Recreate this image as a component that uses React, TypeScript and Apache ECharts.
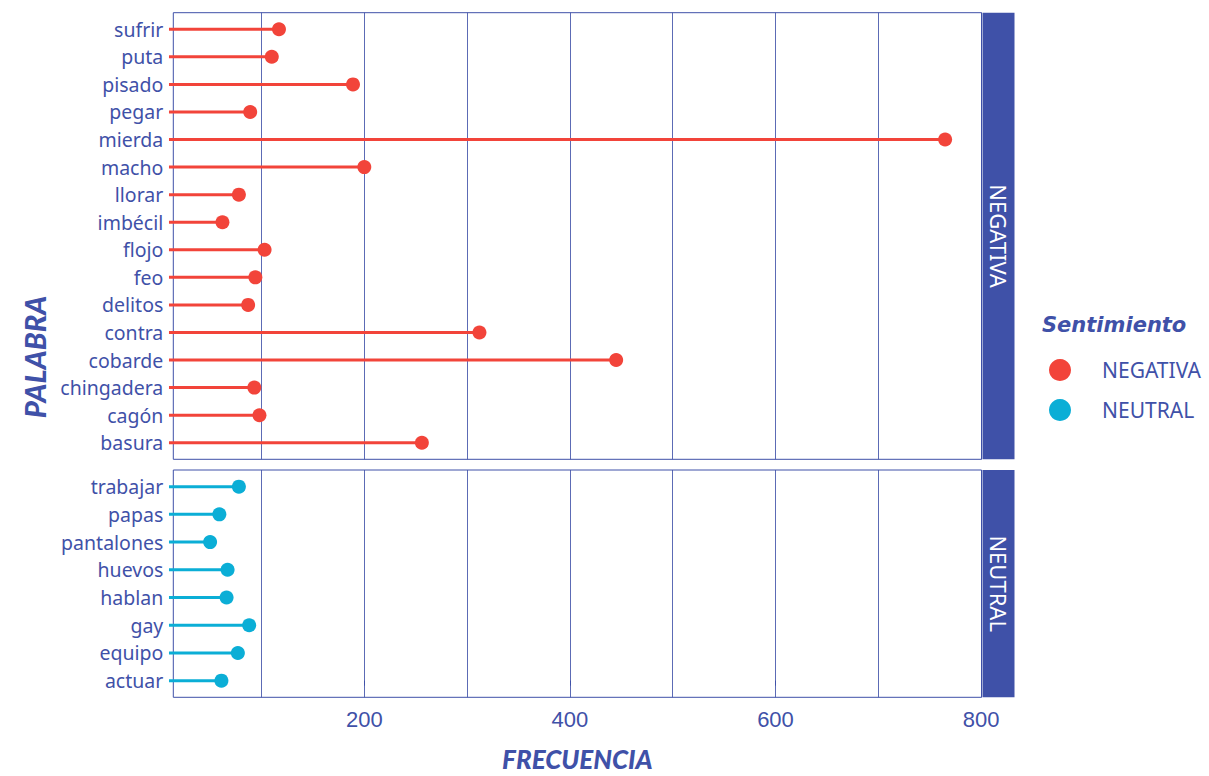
import React, { useEffect, useRef } from "react";
import * as echarts from "echarts";

const negWords = ["basura", "cagón", "chingadera", "cobarde", "contra", "delitos", "feo", "flojo", "imbécil", "llorar", "macho", "mierda", "pegar", "pisado", "puta", "sufrir"];
const negValues = [256, 98, 93, 445, 312, 87, 94, 103, 62, 78, 200, 765, 89, 189, 110, 117];
const neuWords = ["actuar", "equipo", "gay", "hablan", "huevos", "pantalones", "papas", "trabajar"];
const neuValues = [61, 77, 88, 66, 67, 50, 59, 78];
const xTickLabels = [200, 400, 600, 800];
const xGridValues = [100, 200, 300, 400, 500, 600, 700, 800];
const facetNames = ["NEGATIVA", "NEUTRAL"];
const SEG_START = 10;
const X_MIN = 14.2;
const X_MAX = 800.4;

const BLUE = "#3F51A8";
const RED = "#F2443A";
const CYAN = "#0BAED6";
const FONT = "'Noto Sans', sans-serif";
const NUM_FONT = "'Liberation Sans', Arial, sans-serif";
const TITLE_FONT = "Lato, 'Noto Sans', sans-serif";
const LEGEND_TITLE_FONT = "'DejaVu Sans', sans-serif";

export default function App() {
  const ref = useRef<HTMLDivElement>(null);
  useEffect(() => {
    document.body.style.margin = "0";
    const chart = echarts.init(ref.current!, null, { renderer: "svg" });
    const G0 = { left: 173.3, top: 12.7, width: 808.2, height: 446.6 };
    const G1 = { left: 173.3, top: 470, width: 808.2, height: 227.3 };

    const segSeries = (name: string, vals: number[], color: string, idx: number) => ({
      type: "custom",
      name,
      xAxisIndex: idx,
      yAxisIndex: idx,
      z: 3,
      clip: false,
      silent: true,
      data: vals.map((v, i) => [v, i]),
      renderItem: (params: any, api: any) => {
        const y = api.value(1);
        const v = api.value(0);
        const p0 = api.coord([SEG_START, y]);
        const p1 = api.coord([v, y]);
        return {
          type: "line",
          shape: { x1: p0[0], y1: p0[1], x2: p1[0], y2: p1[1] },
          style: { stroke: color, lineWidth: 3 },
        };
      },
    });

    const gridLines = (idx: number) => ({
      type: "scatter",
      name: "grid" + idx,
      xAxisIndex: idx,
      yAxisIndex: idx,
      data: [],
      silent: true,
      z: 1,
      markLine: {
        silent: true,
        symbol: ["none", "none"],
        z: 1,
        label: { show: false },
        lineStyle: { color: BLUE, width: 1, type: "solid", opacity: 0.85 },
        data: xGridValues.map((v) => ({ xAxis: v })),
      },
    });

    const yAxis = (idx: number, words: string[]) => ({
      type: "value",
      gridIndex: idx,
      min: -0.6,
      max: words.length - 1 + 0.6,
      splitLine: { show: false },
      axisLine: { show: false },
      axisTick: { show: false, customValues: words.map((_, i) => i) },
      axisLabel: {
        customValues: words.map((_, i) => i),
        formatter: (v: number) => words[Math.round(v)] ?? "",
        color: BLUE,
        fontSize: 19.5,
        fontFamily: FONT,
        margin: 10,
      },
    });

    chart.setOption({
      animation: false,
      backgroundColor: "#ffffff",
      grid: [
        { ...G0, show: true, borderColor: BLUE, borderWidth: 1, backgroundColor: "transparent" },
        { ...G1, show: true, borderColor: BLUE, borderWidth: 1, backgroundColor: "transparent" },
      ],
      xAxis: [
        {
          type: "value",
          gridIndex: 0,
          min: X_MIN,
          max: X_MAX,
          splitLine: { show: false },
          axisLine: { show: false },
          axisTick: { show: false },
          axisLabel: { show: false },
        },
        {
          type: "value",
          gridIndex: 1,
          min: X_MIN,
          max: X_MAX,
          name: "FRECUENCIA",
          nameLocation: "middle",
          nameGap: 49,
          nameTextStyle: { color: BLUE, fontSize: 26, lineHeight: 26, fontWeight: 900, fontStyle: "italic", fontFamily: TITLE_FONT },
          splitLine: { show: false },
          axisLine: { show: false },
          axisTick: { show: true, customValues: xTickLabels, length: 5, lineStyle: { color: BLUE, width: 1 } },
          axisLabel: { customValues: xTickLabels, color: BLUE, fontSize: 22, fontFamily: NUM_FONT, margin: 11 },
        },
      ],
      yAxis: [yAxis(0, negWords), yAxis(1, neuWords)],
      legend: {
        data: facetNames,
        orient: "vertical",
        left: 1044,
        top: 354,
        icon: "circle",
        itemWidth: 22,
        itemHeight: 22,
        itemGap: 18,
        textStyle: { color: BLUE, fontSize: 21, fontFamily: FONT, padding: [0, 0, 0, 26] },
      },
      series: [
        gridLines(0),
        gridLines(1),
        segSeries("seg-neg", negValues, RED, 0),
        segSeries("seg-neu", neuValues, CYAN, 1),
        {
          type: "scatter",
          name: facetNames[0],
          xAxisIndex: 0,
          yAxisIndex: 0,
          z: 4,
          symbolSize: 14,
          itemStyle: { color: RED, opacity: 1 },
          data: negValues.map((v, i) => [v, i]),
        },
        {
          type: "scatter",
          name: facetNames[1],
          xAxisIndex: 1,
          yAxisIndex: 1,
          z: 4,
          symbolSize: 14,
          itemStyle: { color: CYAN, opacity: 1 },
          data: neuValues.map((v, i) => [v, i]),
        },
      ],
      graphic: [
        { type: "rect", shape: { x: 982.5, y: G0.top, width: 32, height: G0.height }, style: { fill: BLUE } },
        { type: "rect", shape: { x: 982.5, y: G1.top, width: 32, height: G1.height }, style: { fill: BLUE } },
        {
          type: "text",
          x: 998.5,
          y: G0.top + G0.height / 2,
          rotation: -Math.PI / 2,
          style: { text: facetNames[0], fill: "#ffffff", fontSize: 22, fontFamily: FONT, align: "center", verticalAlign: "middle" },
        },
        {
          type: "text",
          x: 998.5,
          y: G1.top + G1.height / 2,
          rotation: -Math.PI / 2,
          style: { text: facetNames[1], fill: "#ffffff", fontSize: 22, fontFamily: FONT, align: "center", verticalAlign: "middle" },
        },
        {
          type: "text",
          x: 34,
          y: 357,
          rotation: Math.PI / 2,
          style: { text: "PALABRA", fill: BLUE, fontSize: 29, fontWeight: 900, fontStyle: "italic", fontFamily: TITLE_FONT, align: "center", verticalAlign: "middle" },
        },
        {
          type: "text",
          x: 1042,
          y: 325,
          style: { text: "Sentimiento", fill: BLUE, fontSize: 21, fontWeight: "bold", fontStyle: "italic", fontFamily: LEGEND_TITLE_FONT, align: "left", verticalAlign: "middle" },
        },
      ],
    });
    return () => chart.dispose();
  }, []);
  return <div ref={ref} style={{ width: 1209, height: 776 }} />;
}
